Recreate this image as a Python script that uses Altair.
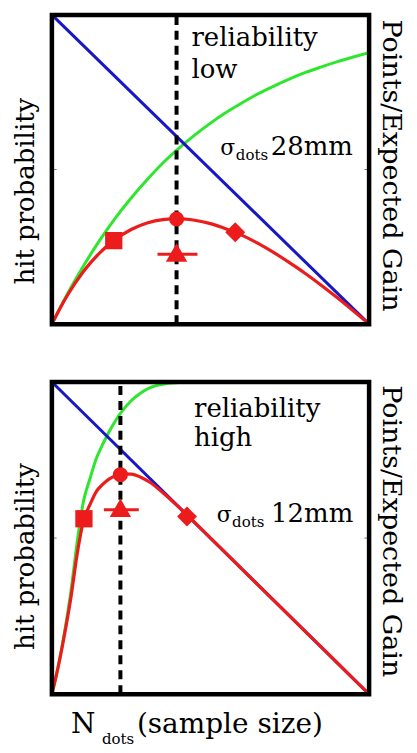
import altair as alt
import pandas as pd

# ---------------- data ----------------
# top panel (reliability low, sigma 28 mm)
x_top = [0, 0.025, 0.05, 0.1, 0.15, 0.2, 0.25, 0.3, 0.35, 0.4, 0.45, 0.5,
         0.55, 0.6, 0.65, 0.7, 0.75, 0.8, 0.85, 0.9, 0.95, 1.0]
hit_top = [0, .051, .100, .189, .270, .343, .408, .467, .521, .568, .611, .650,
           .685, .716, .745, .770, .793, .814, .832, .849, .864, .878]
gain_top = [0, .050, .095, .171, .230, .274, .306, .327, .338, .341, .336, .325,
            .308, .287, .261, .231, .198, .163, .125, .085, .043, 0]

# bottom panel (reliability high, sigma 12 mm)
x_bot = [0, 0.02, 0.04, 0.06, 0.08, 0.10, 0.12, 0.14, 0.16, 0.18, 0.20, 0.22,
         0.25, 0.28, 0.31, 0.35, 0.40, 0.45, 0.5, 0.6, 0.7, 0.8, 0.9, 1.0]
hit_bot = [0, .09, .20, .33, .49, .62, .69, .755, .80, .84, .875, .905,
           .94, .965, .982, .993, .998, 1, 1, 1, 1, 1, 1, 1]
gain_bot = [0, .088, .192, .310, .451, .558, .607, .649, .672, .689, .700, .706,
            .705, .695, .678, .645, .599, .55, .5, .4, .3, .2, .1, 0]

# points line (same in both panels)
points_x = [0, 1]
points_y = [1, 0]

# markers
marker_names = ["square", "circle", "diamond", "triangle"]
markers_top_x = [0.195, 0.393, 0.578, 0.393]
markers_top_y = [0.270, 0.340, 0.297, 0.232]
markers_bot_x = [0.101, 0.216, 0.426, 0.216]
markers_bot_y = [0.562, 0.703, 0.569, 0.597]

# error bar around triangle (lo, hi, y)
errbar_top = [0.333, 0.459, 0.226]
errbar_bot = [0.164, 0.274, 0.591]

# dashed line position
dash_top = 0.393
dash_bot = 0.216

# ---------------- styling ----------------
FONT = "DejaVu Serif"
GREEN = "#2ee62e"
BLUE = "#1717c4"
RED = "#ec1c1c"
W = 318


def sc():
    return alt.Scale(domain=[0, 1], nice=False, zero=False)


def X(field):
    return alt.X(field, type="quantitative", scale=sc(), axis=None)


def Y(field):
    return alt.Y(field, type="quantitative", scale=sc(), axis=None)


def label(text, x, y, size=26, angle=0, align="left", baseline="alphabetic"):
    return alt.Chart(pd.DataFrame({"t": [text], "x": [x], "y": [y]})).mark_text(
        font=FONT, fontSize=size, angle=angle, align=align, baseline=baseline,
        color="black"
    ).encode(x=X("x"), y=Y("y"), text="t:N")


def panel(xv, hit, gain, mx, my, ebar, dash, h, texts):
    curves = pd.DataFrame({"x": xv, "hit": hit, "gain": gain})
    pts = pd.DataFrame({"x": points_x, "y": points_y})
    mk = pd.DataFrame({"name": marker_names, "x": mx, "y": my})
    eb = pd.DataFrame({"lo": [ebar[0]], "hi": [ebar[1]], "y": [ebar[2]]})
    dl = pd.DataFrame({"x": [dash], "y0": [0], "y1": [1]})
    frame = pd.DataFrame({"x0": [0], "x1": [1], "y0": [0], "y1": [1]})
    ticks = pd.DataFrame({"a": [0, 0.985], "b": [0.015, 1], "y": [0.5, 0.5]})

    green = alt.Chart(curves).mark_line(color=GREEN, strokeWidth=3, interpolate="monotone").encode(
        x=X("x"), y=Y("hit"))
    blue = alt.Chart(pts).mark_line(color=BLUE, strokeWidth=3).encode(x=X("x"), y=Y("y"))
    red = alt.Chart(curves).mark_line(color=RED, strokeWidth=3.2, interpolate="monotone").encode(
        x=X("x"), y=Y("gain"))
    dashed = alt.Chart(dl).mark_rule(color="black", strokeWidth=4, strokeDash=[9, 6]).encode(
        x=X("x"), y=Y("y0"), y2="y1")
    bar = alt.Chart(eb).mark_rule(color=RED, strokeWidth=3).encode(x=X("lo"), x2="hi", y=Y("y"))
    sq = alt.Chart(mk).transform_filter(alt.datum.name == "square").mark_point(
        shape="square", filled=True, color=RED, size=300, opacity=1).encode(x=X("x"), y=Y("y"))
    ci = alt.Chart(mk).transform_filter(alt.datum.name == "circle").mark_point(
        shape="circle", filled=True, color=RED, size=230, opacity=1).encode(x=X("x"), y=Y("y"))
    di = alt.Chart(mk).transform_filter(alt.datum.name == "diamond").mark_point(
        shape="diamond", filled=True, color=RED, size=400, opacity=1).encode(x=X("x"), y=Y("y"))
    tr = alt.Chart(mk).transform_filter(alt.datum.name == "triangle").mark_point(
        shape="triangle-up", filled=True, color=RED, size=460, opacity=1).encode(x=X("x"), y=Y("y"))
    tk = alt.Chart(ticks).mark_rule(color="#777777", strokeWidth=1).encode(x=X("a"), x2="b", y=Y("y"))
    box = alt.Chart(frame).mark_rect(fill="transparent", stroke="black", strokeWidth=4.5).encode(
        x=X("x0"), x2="x1", y=Y("y0"), y2="y1")

    layers = [tk, green, blue, dashed, red, bar, sq, ci, di, tr] + texts + [box]
    return alt.layer(*layers).properties(width=W, height=h)


top_texts = [
    label("hit probability", -0.080, 0.43, size=26, angle=270, align="center", baseline="middle"),
    label("Points/Expected Gain", 1.070, 0.513, size=27, angle=90, align="center", baseline="middle"),
    label("reliability", 0.440, 0.90),
    label("low", 0.440, 0.797),
    label("σ", 0.531, 0.548, size=22),
    label("dots", 0.580, 0.530, size=15),
    label("28mm", 0.690, 0.548),
]

bot_texts = [
    label("hit probability", -0.080, 0.441, size=26, angle=270, align="center", baseline="middle"),
    label("Points/Expected Gain", 1.070, 0.522, size=27, angle=90, align="center", baseline="middle"),
    label("reliability", 0.448, 0.888),
    label("high", 0.448, 0.795),
    label("σ", 0.52, 0.553, size=22),
    label("dots", 0.568, 0.534, size=15),
    label("12mm", 0.691, 0.553),
    label("N", 0.06, -0.125, size=28),
    label("dots", 0.158, -0.160, size=15),
    label("(sample size)", 0.268, -0.125, size=28),
]

top = panel(x_top, hit_top, gain_top, markers_top_x, markers_top_y, errbar_top, dash_top, 310, top_texts)
bot = panel(x_bot, hit_bot, gain_bot, markers_bot_x, markers_bot_y, errbar_bot, dash_bot, 313, bot_texts)

chart = alt.vconcat(top, bot, spacing=58, bounds="flush").properties(
    padding={"left": 5, "top": 0, "right": 3, "bottom": 0}
).configure_view(strokeWidth=0)

chart.save("out.html", embed_options={"renderer": "svg", "actions": False})
